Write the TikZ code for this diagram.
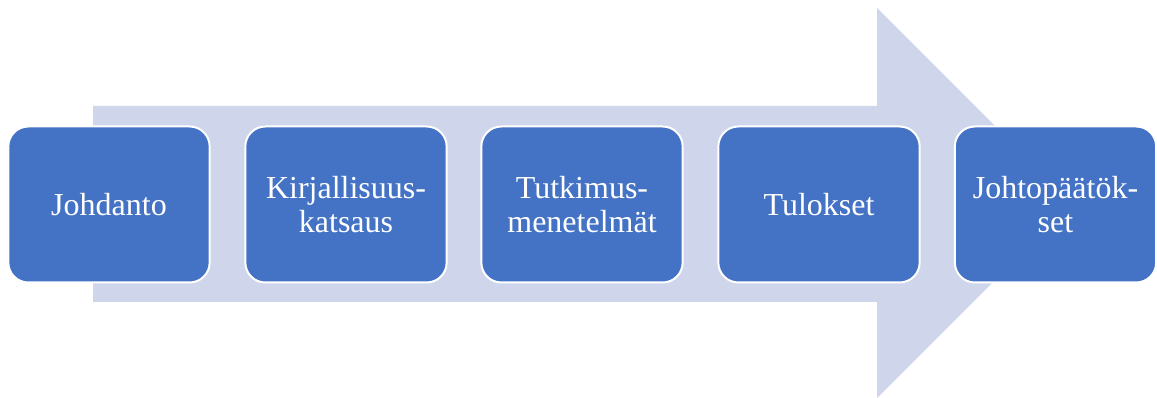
\documentclass[tikz,border=0pt]{standalone}
\usepackage{fontspec}
\setmainfont{Liberation Serif}
\definecolor{stageblue}{HTML}{4472C4}
\definecolor{arrowgrey}{HTML}{CFD5EA}
\tikzset{stage/.style={draw=white, line width=1.5pt, fill=stageblue, rounded corners=15pt,
  minimum width=151pt, minimum height=117pt, text=white, align=center,
  font=\fontsize{24}{26}\selectfont}}
\begin{document}
\begin{tikzpicture}[x=0.75pt,y=0.75pt]
\useasboundingbox (0,0) rectangle (1157,398);
\begin{scope}
\fill[arrowgrey] (93,292) -- (877,292) -- (877,390) -- (1072,195) -- (877,0) -- (877,96) -- (93,96) -- cycle;
\end{scope}
\begin{scope}
\node[stage] (johdanto) at (109,193.5) {Johdanto};
\node[stage] (kirjallisuus) at (346,193.5) {Kirjallisuus-\\katsaus};
\node[stage] (menetelmat) at (582,193.5) {Tutkimus-\\menetelmät};
\node[stage] (tulokset) at (819,193.5) {Tulokset};
\node[stage] (johtopaatokset) at (1055.5,193.5) {Johtopäätök-\\set};
\end{scope}
\end{tikzpicture}
\end{document}
